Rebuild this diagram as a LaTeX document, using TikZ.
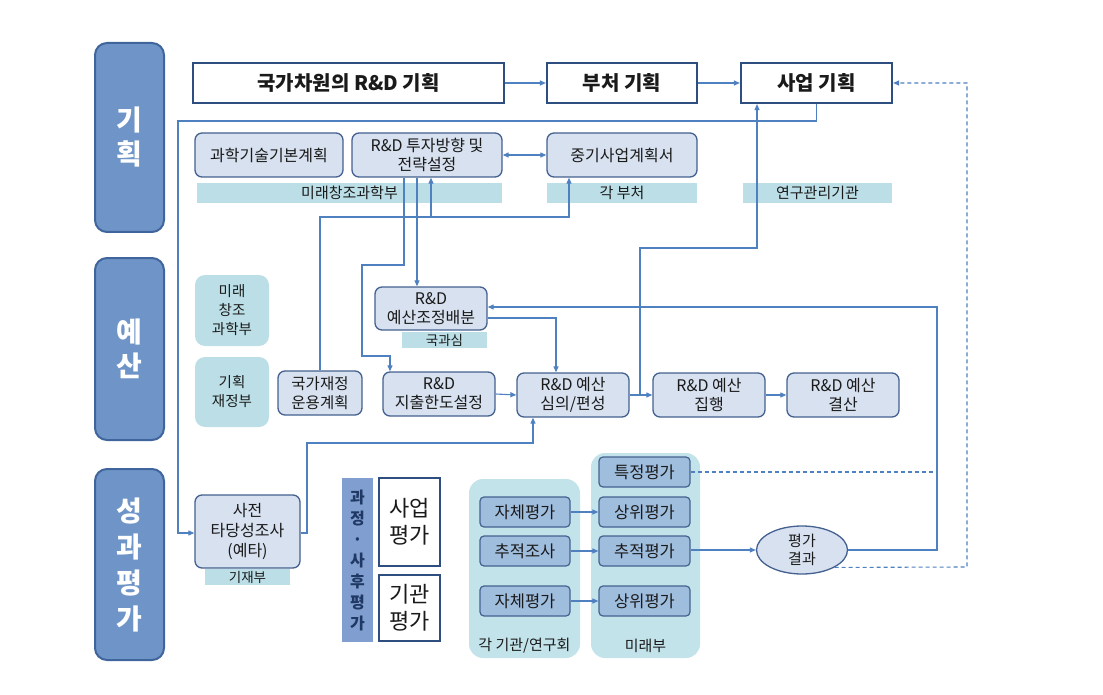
\documentclass[tikz,border=0pt]{standalone}
\usepackage{fontspec}
\setmainfont{Noto Sans CJK KR}
\usetikzlibrary{arrows.meta,shapes.geometric}
\definecolor{catfill}{HTML}{6F94C8}
\definecolor{catborder}{HTML}{40659C}
\definecolor{topborder}{HTML}{2D4E7E}
\definecolor{boxfill}{HTML}{D7E1EF}
\definecolor{boxborder}{HTML}{44618F}
\definecolor{labfill}{HTML}{BCDFE7}
\definecolor{contfill}{HTML}{C3E3EA}
\definecolor{evfill}{HTML}{9FBDDD}
\definecolor{stripfill}{HTML}{809FD0}
\definecolor{striptext}{HTML}{1F3864}
\definecolor{connc}{HTML}{4F80C0}
\definecolor{txt}{HTML}{1A1A1A}
\begin{document}
\begin{tikzpicture}[x=1pt,y=-1pt,
  every node/.style={inner sep=0pt,align=center,text=txt},
  cat/.style={fill=catfill,draw=catborder,line width=2pt,rounded corners=12pt,
    text=white,font=\fontsize{28}{34}\selectfont\bfseries},
  topbox/.style={fill=white,draw=topborder,line width=2.2pt,
    font=\fontsize{20}{24}\selectfont\bfseries},
  nbox/.style={fill=boxfill,draw=boxborder,line width=1.3pt,rounded corners=7pt,
    font=\fontsize{16}{19}\selectfont},
  lab/.style={fill=labfill,font=\fontsize{15}{16}\selectfont},
  tealbox/.style={fill=labfill,rounded corners=10pt,font=\fontsize{14.5}{19}\selectfont},
  evbox/.style={fill=evfill,draw=boxborder,line width=1.2pt,rounded corners=4pt,
    font=\fontsize{16.5}{18}\selectfont},
  cont/.style={fill=contfill,rounded corners=14pt},
  wbox/.style={fill=white,draw=topborder,line width=1.8pt,font=\fontsize{22}{27}\selectfont},
  conn/.style={draw=connc,line width=1.1pt},
  arr/.style={conn,-{Triangle[length=6pt,width=5pt]}},
  darr/.style={conn,{Triangle[length=6pt,width=5pt]}-{Triangle[length=6pt,width=5pt]}},
  dline/.style={conn,dash pattern=on 4pt off 3pt},
  dlinearr/.style={dline,-{Triangle[length=6pt,width=5pt]}}
]
\useasboundingbox (0,0) rectangle (1103,695);

% category boxes
\node[cat,minimum width=69pt,minimum height=189pt] (catA) at (129.5,137.5) {기\\획};
\node[cat,minimum width=69pt,minimum height=182pt] (catB) at (129.5,349) {예\\산};
\node[cat,minimum width=69pt,minimum height=191pt,font=\fontsize{28}{36}\selectfont\bfseries] (catC) at (129.5,564.5) {성\\과\\평\\가};

% top row
\node[topbox,minimum width=311pt,minimum height=40pt] (t1) at (348.5,83) {국가차원의 R\&D 기획};
\node[topbox,minimum width=150pt,minimum height=40pt] (t2) at (622,83) {부처 기획};
\node[topbox,minimum width=151pt,minimum height=40pt] (t3) at (816.5,83) {사업 기획};

% label bars
\node[lab,minimum width=305pt,minimum height=20pt] (l1) at (349.5,193) {미래창조과학부};
\node[lab,minimum width=150pt,minimum height=20pt] (l2) at (622,193) {각 부처};
\node[lab,minimum width=149pt,minimum height=20pt] (l3) at (817.5,193) {연구관리기관};
\node[lab,minimum width=85pt,minimum height=16pt,font=\fontsize{13.5}{15}\selectfont] (l4) at (444.5,340) {국과심};

% planning nodes
\node[nbox,minimum width=148pt,minimum height=44pt] (p1) at (269,155) {과학기술기본계획};
\node[nbox,minimum width=150pt,minimum height=44pt] (p2) at (427,155) {R\&D 투자방향 및\\전략설정};
\node[nbox,minimum width=150pt,minimum height=44pt] (p3) at (622,155) {중기사업계획서};

% budget nodes
\node[tealbox,minimum width=74pt,minimum height=71pt] (m1) at (232,310.5) {미래\\창조\\과학부};
\node[tealbox,minimum width=74pt,minimum height=70pt] (m2) at (232,392) {기획\\재정부};
\node[nbox,minimum width=84pt,minimum height=44pt,font=\fontsize{15.5}{19}\selectfont] (b1) at (320,393) {국가재정\\운용계획};
\node[nbox,minimum width=112pt,minimum height=43pt] (b2) at (431,308.5) {R\&D\\예산조정배분};
\node[nbox,minimum width=112pt,minimum height=44pt] (b3) at (439,394) {R\&D\\지출한도설정};
\node[nbox,minimum width=112pt,minimum height=44pt] (b4) at (573,395) {R\&D 예산\\심의/편성};
\node[nbox,minimum width=112pt,minimum height=44pt] (b5) at (709,395) {R\&D 예산\\집행};
\node[nbox,minimum width=112pt,minimum height=44pt] (b6) at (843,395) {R\&D 예산\\결산};

% evaluation
\node[lab,minimum width=85pt,minimum height=16pt,font=\fontsize{13.5}{15}\selectfont] (l5) at (247.5,577) {기재부};
\node[nbox,minimum width=105pt,minimum height=73pt,font=\fontsize{16}{20}\selectfont] (e0) at (247.5,531.5) {사전\\타당성조사\\(예타)};
\node[fill=stripfill,minimum width=31pt,minimum height=164pt,text=striptext,
  font=\fontsize{16}{21}\selectfont\bfseries] (strip) at (357.5,560) {과\\정\\·\\사\\후\\평\\가};
\node[wbox,minimum width=61pt,minimum height=88pt] (ev1) at (409.5,522) {사업\\평가};
\node[wbox,minimum width=61pt,minimum height=66pt] (ev2) at (409.5,608) {기관\\평가};

\node[cont,minimum width=111pt,minimum height=179pt] (cL) at (524.5,568.5) {};
\node[cont,minimum width=109pt,minimum height=205pt] (cR) at (645.5,555.5) {};
\node[font=\fontsize{15}{16}\selectfont] (cLt) at (524.5,646) {각 기관/연구회};
\node[font=\fontsize{15}{16}\selectfont] (cRt) at (645.5,646) {미래부};

\node[evbox,minimum width=91pt,minimum height=30pt] (r0) at (644.5,472) {특정평가};
\node[evbox,minimum width=91pt,minimum height=30pt] (r1) at (644.5,512) {상위평가};
\node[evbox,minimum width=91pt,minimum height=30pt] (r2) at (644.5,551) {추적평가};
\node[evbox,minimum width=91pt,minimum height=30pt] (r3) at (644.5,601) {상위평가};
\node[evbox,minimum width=90pt,minimum height=30pt] (s1) at (525,512) {자체평가};
\node[evbox,minimum width=90pt,minimum height=30pt] (s2) at (525,551) {추적조사};
\node[evbox,minimum width=90pt,minimum height=30pt] (s3) at (525,601) {자체평가};

\node[ellipse,fill=boxfill,draw=boxborder,line width=1.3pt,minimum width=91pt,minimum height=48pt,
  font=\fontsize{15}{18}\selectfont] (res) at (802,550) {평가\\결과};

% connectors
\coordinate (jR) at (937,307);
\draw[arr] (t1.east) -- (t2.west);
\draw[arr] (t2.east) -- (t3.west);
\draw[dlinearr] (res.south east) -- (967,567) |- (t3.east);
\draw[dline] (r0.east) -- (r0.east -| jR);
\draw[arr] (res.east) -| (jR) -- (b2.east |- jR);
\draw[arr] (b2.east |- 0,318) -| (b4.north -| 556,0);
\draw[arr] (b3.east) -- (b4.west);
\draw[arr] (b4.east) -- (b5.west);
\draw[arr] (b5.east) -- (b6.west);
\draw[arr] (b4.east -| 640,0) |- (757,248) -- (t3.south -| 757,0);
\draw[arr] (t3.south) |- (178,121) |- (e0.west |- 0,533);
\draw[arr] (e0.east |- 0,533) -- (307,533) |- (533,443) -- (b4.south -| 533,0);
\draw[arr] (b1.north) |- (569,217) -- (p3.south -| 569,0);
\draw[arr] (431,217) -- (p2.south -| 431,0);
\draw[arr] (p2.south -| 404,0) |- (362,265) |- (390,356) -- (b3.north -| 390,0);
\draw[arr] (p2.south -| 417,0) -- (b2.north -| 417,0);
\draw[darr] (p2.east) -- (p3.west);
\draw[arr] (s1.east) -- (r1.west);
\draw[arr] (s2.east) -- (r2.west);
\draw[arr] (s3.east) -- (r3.west);
\draw[arr] (r2.east |- res.west) -- (res.west);
\end{tikzpicture}
\end{document}
